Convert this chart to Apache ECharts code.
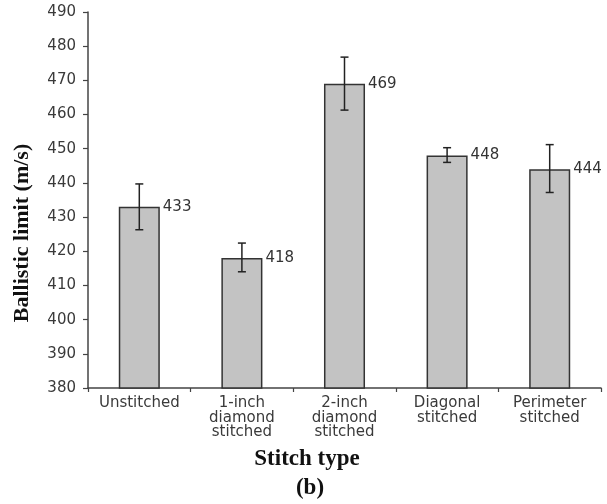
<!DOCTYPE html>
<html>
<head>
<meta charset="utf-8">
<script src="https://cdn.jsdelivr.net/npm/echarts@6/dist/echarts.min.js"></script>
<style>
  html, body { margin: 0; padding: 0; background: #fff; }
  #chart { width: 607px; height: 504px; }
</style>
</head>
<body>
<div id="chart"></div>
<script>
// Ballistic limit per stitch type, with standard-deviation error bars
const categories = ['Unstitched', '1-inch\ndiamond\nstitched', '2-inch\ndiamond\nstitched', 'Diagonal\nstitched', 'Perimeter\nstitched'];
const ballisticLimit = [433, 418, 469, 448, 444];
const errorLow = [426.3, 414.0, 461.3, 446.0, 437.2];
const errorHigh = [439.7, 422.4, 476.8, 450.3, 451.2];
const yTicks = { min: 380, max: 490, step: 10 };

const chart = echarts.init(document.getElementById('chart'), null, { renderer: 'canvas' });

const errorData = categories.map((c, i) => [i, errorLow[i], errorHigh[i]]);

chart.setOption({
  animation: false,
  backgroundColor: '#ffffff',
  grid: { left: 88, right: 6, top: 12, bottom: 116, containLabel: false },
  xAxis: {
    type: 'category',
    data: categories,
    axisLine: { lineStyle: { color: '#444', width: 1.5 } },
    axisTick: { show: true, length: 4, inside: false, lineStyle: { color: '#444', width: 1.2 } },
    axisLabel: {
      color: '#3a3a3a',
      fontFamily: 'DejaVu Sans',
      fontSize: 15,
      lineHeight: 14.5,
      margin: 8,
      interval: 0
    }
  },
  yAxis: {
    type: 'value',
    min: yTicks.min,
    max: yTicks.max,
    interval: yTicks.step,
    splitLine: { show: false },
    axisLine: { show: true, lineStyle: { color: '#444', width: 1.5 } },
    axisTick: { show: true, length: 5, lineStyle: { color: '#444', width: 1.2 } },
    axisLabel: {
      color: '#3a3a3a',
      fontFamily: 'DejaVu Sans',
      fontSize: 15,
      margin: 12
    }
  },
  series: [
    {
      type: 'bar',
      data: ballisticLimit,
      barWidth: '40%',
      itemStyle: { color: '#c3c3c3', borderColor: '#333', borderWidth: 1.5 },
      label: {
        show: true,
        position: ['100%', 0],
        offset: [3, 0],
        align: 'left',
        verticalAlign: 'middle',
        color: '#333',
        fontFamily: 'DejaVu Sans',
        fontSize: 15
      },
      z: 2
    },
    {
      type: 'custom',
      data: errorData,
      z: 3,
      renderItem: function (params, api) {
        const x = api.value(0);
        const lo = api.coord([x, api.value(1)]);
        const hi = api.coord([x, api.value(2)]);
        const half = 4;
        const style = { stroke: '#222', lineWidth: 1.5, fill: null };
        return {
          type: 'group',
          children: [
            { type: 'line', shape: { x1: hi[0], y1: hi[1], x2: lo[0], y2: lo[1] }, style: style },
            { type: 'line', shape: { x1: hi[0] - half, y1: hi[1], x2: hi[0] + half, y2: hi[1] }, style: style },
            { type: 'line', shape: { x1: lo[0] - half, y1: lo[1], x2: lo[0] + half, y2: lo[1] }, style: style }
          ]
        };
      }
    }
  ],
  graphic: [
    {
      type: 'text',
      x: 22, y: 233,
      rotation: Math.PI / 2,
      style: {
        text: 'Ballistic limit (m/s)',
        font: 'bold 22px "Liberation Serif", "Times New Roman", serif',
        fill: '#111',
        align: 'center',
        verticalAlign: 'middle'
      }
    },
    {
      type: 'text',
      x: 307, y: 459,
      style: {
        text: 'Stitch type',
        font: 'bold 23px "Liberation Serif", "Times New Roman", serif',
        fill: '#111',
        align: 'center',
        verticalAlign: 'middle'
      }
    },
    {
      type: 'text',
      x: 310, y: 488,
      style: {
        text: '(b)',
        font: 'bold 23px "Liberation Serif", "Times New Roman", serif',
        fill: '#111',
        align: 'center',
        verticalAlign: 'middle'
      }
    }
  ]
});
</script>
</body>
</html>
